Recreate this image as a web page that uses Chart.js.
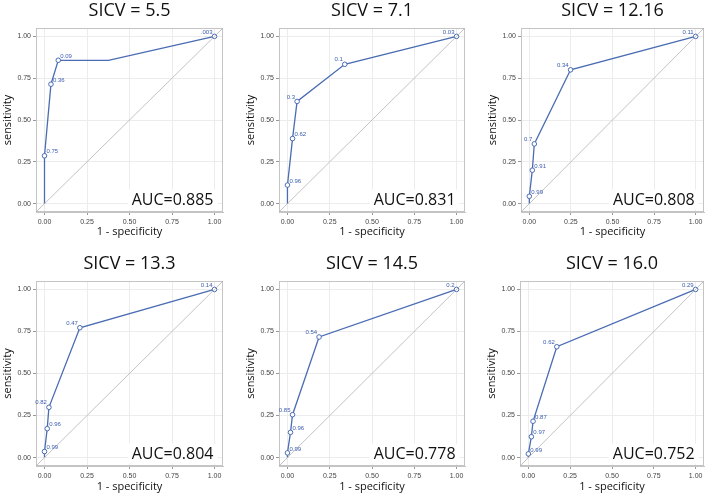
<!DOCTYPE html>
<html>
<head>
<meta charset="utf-8">
<script src="https://cdn.jsdelivr.net/npm/chart.js@4"></script>
<style>
  body { margin: 0; background: #fff; width: 709px; height: 496px; overflow: hidden; position: relative; }
  .panel { position: absolute; }
</style>
</head>
<body>
<div class="panel" id="p0"><canvas id="c0"></canvas></div>
<div class="panel" id="p1"><canvas id="c1"></canvas></div>
<div class="panel" id="p2"><canvas id="c2"></canvas></div>
<div class="panel" id="p3"><canvas id="c3"></canvas></div>
<div class="panel" id="p4"><canvas id="c4"></canvas></div>
<div class="panel" id="p5"><canvas id="c5"></canvas></div>
<script>
const titles = ['SICV = 5.5', 'SICV = 7.1', 'SICV = 12.16', 'SICV = 13.3', 'SICV = 14.5', 'SICV = 16.0'];
const aucs = ['AUC=0.885', 'AUC=0.831', 'AUC=0.808', 'AUC=0.804', 'AUC=0.778', 'AUC=0.752'];

// 1 - specificity / sensitivity / cutoff label for each ROC point
const fpr1 = [0, 0, 0.038, 0.081, 0.376, 1];
const tpr1 = [0, 0.286, 0.714, 0.857, 0.857, 1];
const cut1 = ['', '0.75', '0.36', '0.09', '', '.003'];

const fpr2 = [0, 0, 0.030, 0.057, 0.339, 1];
const tpr2 = [0, 0.111, 0.389, 0.611, 0.833, 1];
const cut2 = ['', '0.96', '0.62', '0.3', '0.1', '0.03'];

const fpr3 = [0, 0, 0.018, 0.030, 0.248, 1];
const tpr3 = [0, 0.044, 0.2, 0.357, 0.8, 1];
const cut3 = ['', '0.99', '0.91', '0.7', '0.34', '0.11'];

const fpr4 = [0, 0, 0.016, 0.026, 0.208, 1];
const tpr4 = [0, 0.036, 0.172, 0.299, 0.772, 1];
const cut4 = ['', '0.99', '0.96', '0.82', '0.47', '0.14'];

const fpr5 = [0, 0, 0.018, 0.030, 0.187, 1];
const tpr5 = [0, 0.028, 0.15, 0.255, 0.717, 1];
const cut5 = ['', '0.99', '0.96', '0.85', '0.54', '0.2'];

const fpr6 = [0, 0, 0.018, 0.028, 0.170, 1];
const tpr6 = [0, 0.022, 0.124, 0.216, 0.659, 1];
const cut6 = ['', '0.99', '0.97', '0.87', '0.62', '0.29'];

// which side of the marker the cutoff is written on
const side1 = ['', 'r', 'r', 'r', '', 'l'];
const side2 = ['', 'r', 'r', 'l', 'l', 'l'];
const side3 = ['', 'r', 'r', 'l', 'l', 'l'];
const side4 = ['', 'r', 'r', 'l', 'l', 'l'];
const side5 = ['', 'r', 'r', 'l', 'l', 'l'];
const side6 = ['', 'r', 'r', 'r', 'l', 'l'];

const axisMin = -0.05, axisMax = 1.05;
const tickStep = 0.25;

const series = [
  [fpr1, tpr1, cut1, side1], [fpr2, tpr2, cut2, side2], [fpr3, tpr3, cut3, side3],
  [fpr4, tpr4, cut4, side4], [fpr5, tpr5, cut5, side5], [fpr6, tpr6, cut6, side6]
];

// canvas placement on the page
const boxes = [
  {left: 0,   top: 0,   w: 236, h: 248, r: 13, xh: 36, xpb: 9.4},
  {left: 243, top: 0,   w: 236, h: 248, r: 14, xh: 36, xpb: 9.4},
  {left: 485, top: 0,   w: 224, h: 248, r: 4,  xh: 36, xpb: 9.4},
  {left: 0,   top: 253, w: 236, h: 243, r: 13, xh: 30, xpb: 2.4},
  {left: 243, top: 253, w: 236, h: 243, r: 14, xh: 30, xpb: 2.4},
  {left: 484, top: 253, w: 225, h: 243, r: 4,  xh: 30, xpb: 2.4}
];

const rocBlue = '#4a6cb3';
const labelBlue = '#3a5cb0';

const rocExtras = {
  id: 'rocExtras',
  beforeDatasetsDraw(chart) {
    const a = chart.chartArea, ctx = chart.ctx;
    ctx.save();
    ctx.strokeStyle = '#c4c4c4';
    ctx.lineWidth = 1;
    ctx.strokeRect(a.left + 0.5, a.top + 0.5, a.right - a.left - 1, a.bottom - a.top - 1);
    ctx.restore();
  },
  afterDatasetsDraw(chart, args, opts) {
    const ctx = chart.ctx;
    const meta = chart.getDatasetMeta(1);
    ctx.save();
    ctx.font = '6px "Liberation Sans", Arial, sans-serif';
    ctx.fillStyle = labelBlue;
    ctx.textBaseline = 'middle';
    meta.data.forEach((pt, i) => {
      const txt = opts.cuts[i];
      if (!txt) return;
      if (opts.sides[i] === 'l') {
        ctx.textAlign = 'right';
        ctx.fillText(txt, pt.x - 2, pt.y - 4.5);
      } else {
        ctx.textAlign = 'left';
        ctx.fillText(txt, pt.x + 2, pt.y - 4);
      }
    });
    // AUC box
    const xs = chart.scales.x, ys = chart.scales.y;
    const rx = xs.getPixelForValue(1) - 1;
    const by = ys.getPixelForValue(0) + 1;
    ctx.font = '16px "Open Sans", sans-serif';
    const w = ctx.measureText(opts.auc).width;
    ctx.fillStyle = '#fff';
    ctx.fillRect(rx - w - 4, by - 15, w + 8, 20);
    ctx.fillStyle = '#111';
    ctx.textAlign = 'right';
    ctx.textBaseline = 'alphabetic';
    ctx.fillText(opts.auc, rx, by);
    ctx.restore();
  }
};

series.forEach((s, k) => {
  const [fpr, tpr, cuts, sides] = s;
  const b = boxes[k];
  const wrap = document.getElementById('p' + k);
  wrap.style.left = b.left + 'px';
  wrap.style.top = b.top + 'px';
  wrap.style.width = b.w + 'px';
  wrap.style.height = b.h + 'px';

  const pts = fpr.map((x, i) => ({x: x, y: tpr[i]}));
  const radii = cuts.map(c => c ? 2.3 : 0);

  new Chart(document.getElementById('c' + k), {
    type: 'line',
    data: {
      datasets: [
        {
          data: [{x: axisMin, y: axisMin}, {x: axisMax, y: axisMax}],
          borderColor: '#b4b4b4',
          borderWidth: 0.8,
          pointRadius: 0
        },
        {
          data: pts,
          borderColor: rocBlue,
          borderWidth: 1.3,
          pointRadius: radii,
          pointBorderWidth: 1,
          pointBorderColor: rocBlue,
          pointBackgroundColor: '#fff',
          tension: 0
        }
      ]
    },
    options: {
      responsive: true,
      maintainAspectRatio: false,
      devicePixelRatio: 1,
      animation: false,
      layout: {padding: {left: 0, right: b.r, top: 0, bottom: 0}},
      scales: {
        x: {
          type: 'linear',
          min: axisMin,
          max: axisMax,
          afterFit: sc => { sc.height = b.xh; },
          ticks: {
            stepSize: tickStep,
            includeBounds: false,
            maxRotation: 0,
            padding: 3,
            color: '#444',
            font: {family: 'Liberation Sans', size: 7},
            callback: v => Number(v).toFixed(2)
          },
          grid: {color: '#ececec', tickLength: 3, tickColor: '#999'},
          border: {color: '#c4c4c4'},
          title: {
            display: true,
            text: '1 - specificity',
            color: '#111',
            font: {family: 'Open Sans', size: 11},
            padding: {top: 0, bottom: b.xpb}
          }
        },
        y: {
          type: 'linear',
          min: axisMin,
          max: axisMax,
          afterFit: sc => { sc.width = 36; },
          ticks: {
            stepSize: tickStep,
            includeBounds: false,
            padding: 2,
            color: '#444',
            font: {family: 'Liberation Sans', size: 7},
            callback: v => Number(v).toFixed(2)
          },
          grid: {color: '#ececec', tickLength: 3, tickColor: '#999'},
          border: {color: '#c4c4c4'},
          title: {
            display: true,
            text: 'sensitivity',
            color: '#111',
            font: {family: 'Open Sans', size: 11},
            padding: {top: 1.4, bottom: 0}
          }
        }
      },
      plugins: {
        legend: {display: false},
        tooltip: {enabled: false},
        title: {
          display: true,
          text: titles[k],
          fullSize: false,
          color: '#111',
          font: {family: 'Open Sans', size: 18, weight: 'normal'},
          padding: {top: 0, bottom: 6.4}
        },
        rocExtras: {cuts: cuts, sides: sides, auc: aucs[k]}
      }
    },
    plugins: [rocExtras]
  });
});
</script>
</body>
</html>
